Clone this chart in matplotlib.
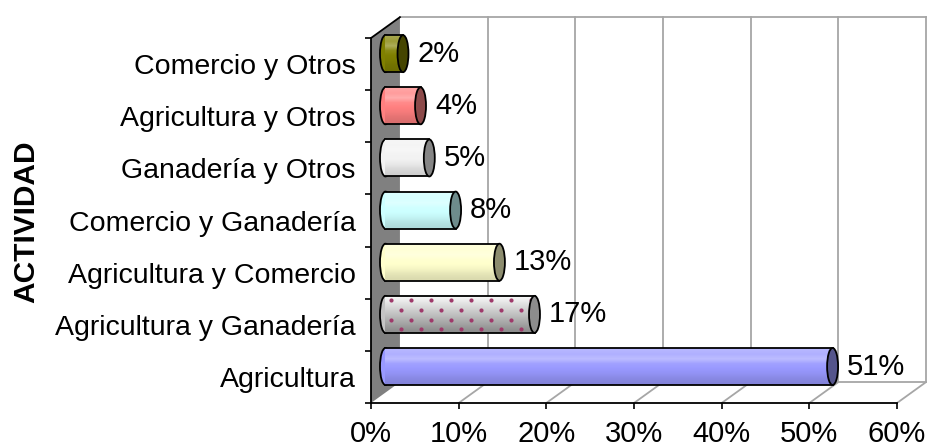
import numpy as np
import matplotlib.pyplot as plt
from matplotlib.patches import Ellipse, Rectangle, Polygon
from matplotlib.colors import to_rgb

plt.rcParams['font.family'] = ['Liberation Sans', 'DejaVu Sans']

# data (bottom to top)
categories = ['Agricultura', 'Agricultura y Ganadería', 'Agricultura y Comercio',
              'Comercio y Ganadería', 'Ganadería y Otros', 'Agricultura y Otros',
              'Comercio y Otros']
values = [51, 17, 13, 8, 5, 4, 2]
body_colors = ['#9999ff', '#c4c4c4', '#ffffcc', '#ccffff', '#f2f2f2', '#ff8080', '#808000']
cap_colors = ['#55558c', '#8c8c8c', '#8c8c6e', '#6e8c8c', '#858585', '#8c4a4a', '#454500']
dotted = [False, True, False, False, False, False, False]
x_ticks = [0, 10, 20, 30, 40, 50, 60]
x_ticklabels = ['0%', '10%', '20%', '30%', '40%', '50%', '60%']

DX, DY = 3.3, 0.40      # depth offset of the back wall
BAR_H = 0.71
CAP_W = 1.25
FS = 21


def gradient(color, gray=False):
    c = np.array(to_rgb(color))
    if gray:
        top, bot = np.array(to_rgb('#f6f6f6')), np.array(to_rgb('#8e8e8e'))
        t = np.linspace(0, 1, 8)[:, None]
        rows = top * (1 - t) + bot * t
        return rows[:, None, :]
    shades = [0.30, 0.22, 0.35, 0.08, 0.0, -0.04, -0.10, -0.14]
    rows = []
    for s in shades:
        if s >= 0:
            rows.append(c + (1 - c) * s)
        else:
            rows.append(c * (1 + s))
    return np.clip(np.array(rows), 0, 1)[:, None, :]


fig = plt.figure(figsize=(9.27, 4.47), dpi=100)
ax = fig.add_axes([371 / 927, 44 / 447, 556 / 927, 387 / 447])
n = len(categories)
xmax = x_ticks[-1]

# left side wall
ax.add_patch(Polygon([(0, 0), (DX, DY), (DX, n + DY), (0, n)], closed=True,
                     fc='#808080', ec='none', zorder=1))
ax.plot([0, DX], [n, n + DY], color='black', lw=1.3, zorder=2)

# back wall grid + floor
grid_c = '#a6a6a6'
for t in x_ticks[1:]:
    ax.plot([t + DX] * 2, [DY, n + DY], color=grid_c, lw=1.3, zorder=1)
    ax.plot([t, t + DX], [0, DY], color=grid_c, lw=1.3, zorder=1)
ax.plot([DX, xmax + DX], [n + DY] * 2, color=grid_c, lw=1.3, zorder=1)
ax.plot([DX, xmax + DX], [DY] * 2, color=grid_c, lw=1.3, zorder=1)

# cylinders
for i, (v, bc, cc, dot) in enumerate(zip(values, body_colors, cap_colors, dotted)):
    yc = i + 0.5 + DY / 2
    x0 = DX / 2
    x1 = x0 + v
    y0, y1 = yc - BAR_H / 2, yc + BAR_H / 2
    ax.add_patch(Ellipse((x0, yc), CAP_W, BAR_H, fc=bc, ec='black', lw=1.3, zorder=3))
    body = Rectangle((x0, y0), v, BAR_H, fc='none', ec='none', zorder=4)
    ax.add_patch(body)
    im = ax.imshow(gradient(bc, gray=dot), extent=(x0, x1, y0, y1), aspect='auto',
                   interpolation='bilinear', zorder=4)
    im.set_clip_path(body)
    if dot:
        # dotted texture: staggered rows inside the cylinder body
        rows = np.linspace(y0 + 0.1 * BAR_H, y1 - 0.12 * BAR_H, 4)
        for k, ry in enumerate(rows[::-1]):
            xs = np.arange(x0 + 0.6 + (k % 2) * 1.14, x1 - 0.2, 2.28)
            sc = ax.scatter(xs, np.full_like(xs, ry), s=9, color='#9e3a6a',
                            linewidths=0, zorder=4.5)
            sc.set_clip_path(body)
    ax.plot([x0, x1], [y1, y1], color='black', lw=1.3, zorder=5)
    ax.plot([x0, x1], [y0, y0], color='black', lw=1.3, zorder=5)
    ax.add_patch(Ellipse((x1, yc), CAP_W, BAR_H, fc=cc, ec='black', lw=1.3, zorder=6))
    ax.text(v + 3.3, yc, f'{v}%', fontsize=FS, ha='left', va='center', zorder=7)

ax.set_xlim(0, 556 / 8.767)
ax.set_ylim(0, 387 / 52.14)

for s in ['top', 'right']:
    ax.spines[s].set_visible(False)
for s in ['left', 'bottom']:
    ax.spines[s].set_linewidth(1.3)
    ax.spines[s].set_zorder(8)
ax.spines['left'].set_bounds(0, n)
ax.spines['bottom'].set_bounds(0, xmax)

ax.set_xticks(x_ticks, x_ticklabels)
ax.tick_params(axis='x', length=4.5, width=1.2, pad=8, labelsize=FS)
ax.set_yticks(range(n + 1), [''] * (n + 1))
ax.set_yticks([i + 0.5 for i in range(n)], categories, minor=True)
ax.tick_params(axis='y', which='major', length=4.5, width=1.2)
ax.tick_params(axis='y', which='minor', length=0, pad=11, labelsize=20.5)

fig.text(26 / 927, 1 - 222 / 447, 'ACTIVIDAD', rotation=90, fontsize=21.5,
         fontweight='bold', ha='center', va='center')

fig.savefig('out.png', dpi=100)
